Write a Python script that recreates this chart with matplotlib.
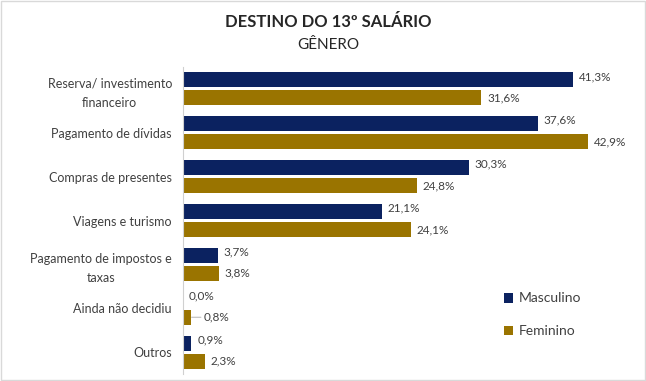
import matplotlib.pyplot as plt
import numpy as np
from matplotlib.patches import Rectangle

categorias = ['Reserva/ investimento\nfinanceiro', 'Pagamento de dívidas', 'Compras de presentes',
              'Viagens e turismo', 'Pagamento de impostos e\ntaxas', 'Ainda não decidiu', 'Outros']
masculino = [41.3, 37.6, 30.3, 21.1, 3.7, 0.0, 0.9]
feminino = [31.6, 42.9, 24.8, 24.1, 3.8, 0.8, 2.3]

plt.rcParams['font.family'] = ['Lato', 'DejaVu Sans']

cor_m = '#0b2260'
cor_f = '#9a7400'
cor_txt = '#404040'

fig = plt.figure(figsize=(6.46, 3.81), dpi=100)
ax = fig.add_axes([183 / 646, 1 - 374 / 381, (640 - 183) / 646, (374 - 67) / 381])

y = np.arange(len(categorias))
h = 0.34
off = 0.205
ax.barh(y - off, masculino, height=h, color=cor_m, label='Masculino')
ax.barh(y + off, feminino, height=h, color=cor_f, label='Feminino')

for i in range(len(categorias)):
    ax.text(masculino[i] + 0.6, y[i] - off - 0.08, f'{masculino[i]:.1f}%'.replace('.', ','),
            va='center', ha='left', fontsize=8.5, color=cor_txt)
    if i == 5:
        ax.annotate(f'{feminino[i]:.1f}%'.replace('.', ','), xy=(feminino[i] + 0.1, y[i] + off),
                    xytext=(feminino[i] + 1.4, y[i] + off), va='center', ha='left', fontsize=8.5,
                    color=cor_txt, arrowprops=dict(arrowstyle='-', color='#a6a6a6', lw=0.6,
                                                   shrinkA=0, shrinkB=0))
    else:
        ax.text(feminino[i] + 0.6, y[i] + off, f'{feminino[i]:.1f}%'.replace('.', ','),
                va='center', ha='left', fontsize=8.5, color=cor_txt)

ax.set_xlim(0, 48.4)
ax.set_ylim(len(categorias) - 0.5, -0.5)
ax.set_yticks(y)
ax.set_yticklabels(categorias, fontsize=9, color=cor_txt, multialignment='center', linespacing=1.7)
ax.tick_params(axis='y', length=0, pad=8)
ax.set_xticks([])
for s in ['top', 'right', 'bottom']:
    ax.spines[s].set_visible(False)
ax.spines['left'].set_color('#d0d0d0')
ax.spines['left'].set_linewidth(0.8)

leg = ax.legend(loc='upper left', bbox_to_anchor=(491 / 646, 1 - 280 / 381), bbox_transform=fig.transFigure,
                frameon=False, fontsize=10, handlelength=0.7, handleheight=0.7, handletextpad=0.4,
                labelspacing=1.5)
for t in leg.get_texts():
    t.set_color(cor_txt)

fig.text(0.508, 1 - 22 / 381, 'DESTINO DO 13º SALÁRIO', ha='center', va='center', fontsize=12,
         fontweight='bold', color='#262626')
fig.text(0.508, 1 - 45 / 381, 'GÊNERO', ha='center', va='center', fontsize=11, color='#262626')

fig.patches.append(Rectangle((0.002, 0.003), 0.996, 0.994, transform=fig.transFigure, fill=False,
                             edgecolor='#d9d9d9', lw=1))

fig.savefig('out.png', dpi=100)
